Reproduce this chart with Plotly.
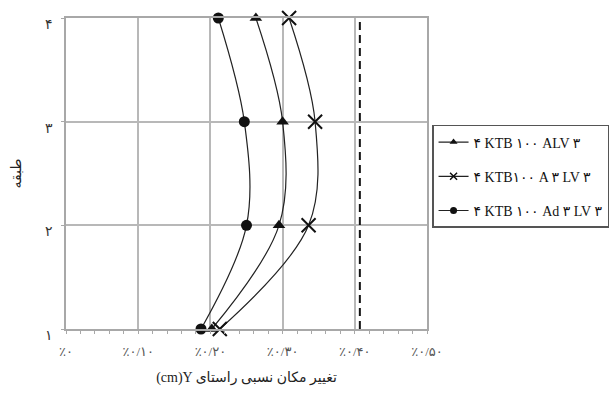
import plotly.graph_objects as go

# Data (story levels and relative drift %)
floors = [1, 2, 3, 4]
floor_labels = ["۱", "۲", "۳", "۴"]
series_names = ["۴ KTB ۱۰۰ ALV ۳", "۴ KTB۱۰۰ A ۳ LV ۳", "۴ KTB ۱۰۰ Ad ۳ LV ۳"]
drift_alv = [0.202, 0.295, 0.300, 0.263]
drift_a3lv = [0.213, 0.336, 0.345, 0.309]
drift_ad3lv = [0.187, 0.250, 0.247, 0.211]
limit_x = [0.407, 0.407]
limit_y = [1, 4]
x_ticks = [0, 0.1, 0.2, 0.3, 0.4, 0.5]
x_tick_labels = ["٪۰", "٪۰/۱۰", "٪۰/۲۰", "٪۰/۳۰", "٪۰/۴۰", "٪۰/۵۰"]
x_title = "(cm)Y تغییر مکان نسبی راستای"
y_title = "طبقه"

FONT = "Liberation Serif, DejaVu Sans, serif"
LINE = "#222222"

fig = go.Figure()
fig.add_trace(go.Scatter(
    x=limit_x, y=limit_y, mode="lines", showlegend=False,
    line=dict(color="#111111", width=2, dash="8px,5px"), hoverinfo="skip"))

specs = [
    (drift_alv, series_names[0],
     dict(symbol="triangle-up", size=11, color="#111111"),
     dict(symbol="triangle-up", size=7, color="#111111")),
    (drift_a3lv, series_names[1],
     dict(symbol="x-thin", size=14, color="#111111", line=dict(color="#111111", width=2)),
     dict(symbol="x-thin", size=7, color="#111111", line=dict(color="#111111", width=1.5))),
    (drift_ad3lv, series_names[2],
     dict(symbol="circle", size=11, color="#111111"),
     dict(symbol="circle", size=7, color="#111111")),
]
for i, (xs, name, mk, mk_leg) in enumerate(specs):
    fig.add_trace(go.Scatter(
        x=xs, y=floors, mode="lines+markers", name=name, showlegend=False,
        legendgroup=f"g{i}",
        line=dict(color=LINE, width=1.2, shape="spline", smoothing=1),
        marker=mk, cliponaxis=False))
    fig.add_trace(go.Scatter(
        x=[None], y=[None], mode="lines+markers", name=name, showlegend=True,
        legendgroup=f"g{i}",
        line=dict(color=LINE, width=1.2), marker=mk_leg))

fig.update_layout(
    width=612, height=394,
    margin=dict(l=66, r=185, t=18, b=65, autoexpand=False),
    paper_bgcolor="white", plot_bgcolor="white",
    font=dict(family=FONT, size=13, color="#222222"),
    showlegend=True,
    legend=dict(x=1.014, y=0.656, xanchor="left", yanchor="top",
                bordercolor="#555555", borderwidth=1.5, bgcolor="white",
                font=dict(family=FONT, size=14, color="#111111"),
                itemwidth=30, tracegroupgap=13),
    xaxis=dict(range=[0, 0.5], tickvals=x_ticks, ticktext=x_tick_labels,
               showgrid=True, gridcolor="#b8b8b8", gridwidth=1.5,
               showline=True, linecolor="#a8a8a8", linewidth=1.5, mirror=True,
               ticks="outside", ticklen=3, tickcolor="#a8a8a8",
               minor=dict(dtick=0.02, ticks="outside", ticklen=3, tickcolor="#a8a8a8", showgrid=False),
               tickfont=dict(size=13, color="#555555"),
               ticklabelstandoff=7,
               zeroline=False,
               title=dict(text=x_title, font=dict(size=14, color="#222222"), standoff=14)),
    yaxis=dict(range=[1, 4], tickvals=floors, ticktext=floor_labels,
               showgrid=True, gridcolor="#b8b8b8", gridwidth=1.5,
               showline=True, linecolor="#a8a8a8", linewidth=1.5, mirror=True,
               ticks="outside", ticklen=3, tickcolor="#a8a8a8",
               tickfont=dict(size=14, color="#333333"),
               ticklabelstandoff=6, ticklabelshift=6,
               zeroline=False,
               title=dict(text=y_title, font=dict(size=14, color="#222222"), standoff=20)),
)

fig.write_html("out.html")
